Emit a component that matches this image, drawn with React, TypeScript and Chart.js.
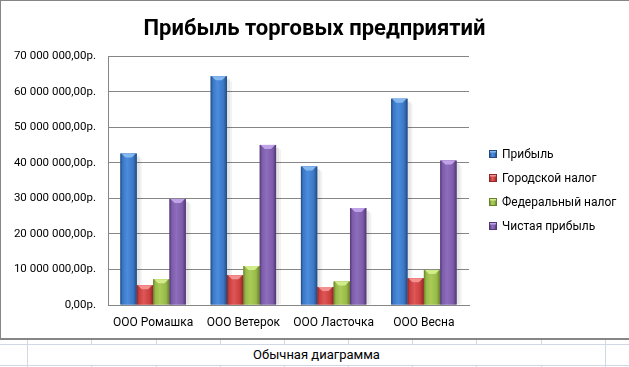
import React, { useEffect, useRef } from "react";
import { Chart, registerables } from "chart.js";

Chart.register(...registerables);

// ---- data ----
const chartTitle = "Прибыль торговых предприятий";
const sheetCaption = "Обычная диаграмма";
const categories = ["ООО Ромашка", "ООО Ветерок", "ООО Ласточка", "ООО Весна"];
const seriesNames = ["Прибыль", "Городской налог", "Федеральный налог", "Чистая прибыль"];
const profit = [42650000, 64400000, 39000000, 58100000];
const cityTax = [5540000, 8370000, 5070000, 7550000];
const federalTax = [7250000, 10950000, 6630000, 9880000];
const netProfit = [29860000, 45080000, 27300000, 40670000];
const yMin = 0;
const yMax = 70000000;
const yStep = 10000000;

// ---- styles ----
const FONT = "Roboto, 'Noto Sans', sans-serif";
const palette = [
  { base: "#3B78C6", dark: "#23497F", light: "#4C8CDC", cap: "#86B8F0" },
  { base: "#CC3F3F", dark: "#8E2727", light: "#DE5656", cap: "#F39090" },
  { base: "#98BA48", dark: "#66802C", light: "#AACB58", cap: "#D2EC8A" },
  { base: "#7D5CAA", dark: "#503872", light: "#8E6DBD", cap: "#BFA2E8" },
];
const GRID = "#868686";
const SHEET_LINE = "#D0D7E5";
const SHEET_COLS = [27, 91, 156, 220, 284, 348, 412, 476, 541, 605];

function rub(v: number): string {
  const s = Math.round(v).toString().replace(/\B(?=(\d{3})+(?!\d))/g, " ");
  return s + ",00р.";
}

function barGradient(ctx: CanvasRenderingContext2D, l: number, r: number, pal: any) {
  const g = ctx.createLinearGradient(l, 0, r, 0);
  g.addColorStop(0, pal.dark);
  g.addColorStop(0.14, pal.base);
  g.addColorStop(0.42, pal.light);
  g.addColorStop(0.78, pal.base);
  g.addColorStop(1, pal.dark);
  return g;
}

const bevelPlugin = {
  id: "bevelBars",
  afterDatasetsDraw(chart: any) {
    const ctx: CanvasRenderingContext2D = chart.ctx;
    chart.data.datasets.forEach((_ds: any, i: number) => {
      const meta = chart.getDatasetMeta(i);
      const pal = palette[i];
      meta.data.forEach((el: any) => {
        const { x, y, base, width } = el.getProps(["x", "y", "base", "width"], true);
        const l = x - width / 2;
        const r = x + width / 2;
        const h = base - y;
        ctx.save();
        ctx.fillStyle = "rgba(0,0,0,0.10)";
        ctx.fillRect(r, y + 3, 3, h - 3);
        ctx.fillStyle = "rgba(0,0,0,0.05)";
        ctx.fillRect(r + 3, y + 5, 2, h - 5);
        ctx.fillStyle = barGradient(ctx, l, r, pal);
        ctx.fillRect(l, y, width, h);
        const b = Math.min(4, h / 2);
        ctx.beginPath();
        ctx.moveTo(l + 1, y);
        ctx.lineTo(r - 1, y);
        ctx.lineTo(r - 1 - b, y + b);
        ctx.lineTo(l + 1 + b, y + b);
        ctx.closePath();
        ctx.fillStyle = pal.cap;
        ctx.fill();
        ctx.restore();
      });
    });
  },
};

const LEGEND_X = 489;
const LEGEND_Y0 = 154;
const LEGEND_STEP = 24;

const legendPlugin = {
  id: "sideLegend",
  afterDraw(chart: any) {
    const ctx: CanvasRenderingContext2D = chart.ctx;
    ctx.save();
    chart.data.datasets.forEach((ds: any, i: number) => {
      const pal = palette[i];
      const cy = LEGEND_Y0 + i * LEGEND_STEP;
      const bx = LEGEND_X;
      const by = cy - 4;
      ctx.fillStyle = pal.dark;
      ctx.fillRect(bx, by, 8, 8);
      ctx.fillStyle = barGradient(ctx, bx + 1, bx + 7, pal);
      ctx.fillRect(bx + 1, by + 1, 6, 6);
      ctx.fillStyle = pal.cap;
      ctx.fillRect(bx + 1, by + 1, 6, 1.5);
      ctx.fillStyle = "#000";
      ctx.font = `12px ${FONT}`;
      ctx.textBaseline = "middle";
      ctx.textAlign = "left";
      ctx.fillText(ds.label, LEGEND_X + 13, cy + 0.5);
    });
    ctx.restore();
  },
};

const framePlugin = {
  id: "frame",
  beforeDraw(chart: any) {
    const ctx: CanvasRenderingContext2D = chart.ctx;
    ctx.save();
    ctx.fillStyle = "#fff";
    ctx.fillRect(0, 0, chart.width, chart.height);
    ctx.restore();
  },
  afterDraw(chart: any) {
    const ctx: CanvasRenderingContext2D = chart.ctx;
    ctx.save();
    ctx.fillStyle = "#868686";
    ctx.fillRect(0, 0, 1, chart.height);
    ctx.fillRect(0, 0, chart.width, 1);
    ctx.fillRect(0, chart.height - 2, chart.width, 2);
    ctx.restore();
  },
};

export default function App() {
  const ref = useRef<HTMLCanvasElement | null>(null);

  useEffect(() => {
    document.body.style.margin = "0";
    const canvas = ref.current;
    if (!canvas) return;
    const series = [profit, cityTax, federalTax, netProfit];
    const chart = new Chart(canvas, {
      type: "bar",
      data: {
        labels: categories,
        datasets: series.map((d, i) => ({
          label: seriesNames[i],
          data: d,
          backgroundColor: palette[i].base,
          borderWidth: 0,
          categoryPercentage: 0.725,
          barPercentage: 1,
        })),
      },
      options: {
        responsive: false,
        animation: false,
        devicePixelRatio: 1,
        layout: { padding: { left: 0, right: 0, top: 0, bottom: 0 } },
        plugins: {
          legend: { display: false },
          tooltip: { enabled: false },
          title: {
            display: true,
            text: chartTitle,
            color: "#000",
            font: { family: FONT, size: 22, weight: "bold" },
            padding: { top: 16, bottom: 14 },
          },
        },
        scales: {
          x: {
            afterFit(scale: any) {
              scale.height = 35;
            },
            grid: { display: false, drawTicks: false },
            border: { display: true, color: GRID, width: 1 },
            ticks: { color: "#000", font: { family: FONT, size: 12 }, padding: 11, maxRotation: 0 },
          },
          y: {
            min: yMin,
            max: yMax,
            afterFit(scale: any) {
              scale.width = 108;
            },
            grid: { color: GRID, drawTicks: false, lineWidth: 1 },
            border: { display: true, color: GRID, width: 1 },
            ticks: {
              stepSize: yStep,
              color: "#000",
              font: { family: FONT, size: 11.5 },
              padding: 12,
              callback: (v: any) => rub(Number(v)),
            },
          },
          legendSpace: {
            type: "linear",
            position: "right",
            display: true,
            afterFit(scale: any) {
              scale.width = 160;
            },
            grid: { display: false, drawTicks: false },
            border: { display: false },
            ticks: { display: false },
          },
        },
      },
      plugins: [framePlugin, bevelPlugin, legendPlugin],
    } as any);
    return () => chart.destroy();
  }, []);

  return (
    <div style={{ position: "relative", width: 629, height: 367, overflow: "hidden", background: "#fff" }}>
      <canvas ref={ref} width={629} height={340} style={{ position: "absolute", left: 0, top: 0, width: 629, height: 340 }} />
      {/* spreadsheet grid below the chart */}
      <div style={{ position: "absolute", left: 0, top: 344, width: 629, height: 1, background: SHEET_LINE }} />
      <div style={{ position: "absolute", left: 0, top: 365, width: 629, height: 1, background: SHEET_LINE }} />
      {SHEET_COLS.map((x, i) => (
        <div key={"a" + i} style={{ position: "absolute", left: x, top: 340, width: 1, height: 5, background: SHEET_LINE }} />
      ))}
      {SHEET_COLS.map((x, i) => (
        <div key={"b" + i} style={{ position: "absolute", left: x, top: 365, width: 1, height: 2, background: SHEET_LINE }} />
      ))}
      <div style={{ position: "absolute", left: SHEET_COLS[0], top: 345, width: 1, height: 20, background: SHEET_LINE }} />
      <div style={{ position: "absolute", left: SHEET_COLS[SHEET_COLS.length - 1], top: 345, width: 1, height: 20, background: SHEET_LINE }} />
      <div
        style={{
          position: "absolute",
          left: SHEET_COLS[0] + 1,
          top: 345,
          width: SHEET_COLS[SHEET_COLS.length - 1] - SHEET_COLS[0] - 1,
          height: 20,
          lineHeight: "20px",
          textAlign: "center",
          fontFamily: FONT,
          fontSize: 13,
          color: "#000",
        }}
      >
        {sheetCaption}
      </div>
    </div>
  );
}
